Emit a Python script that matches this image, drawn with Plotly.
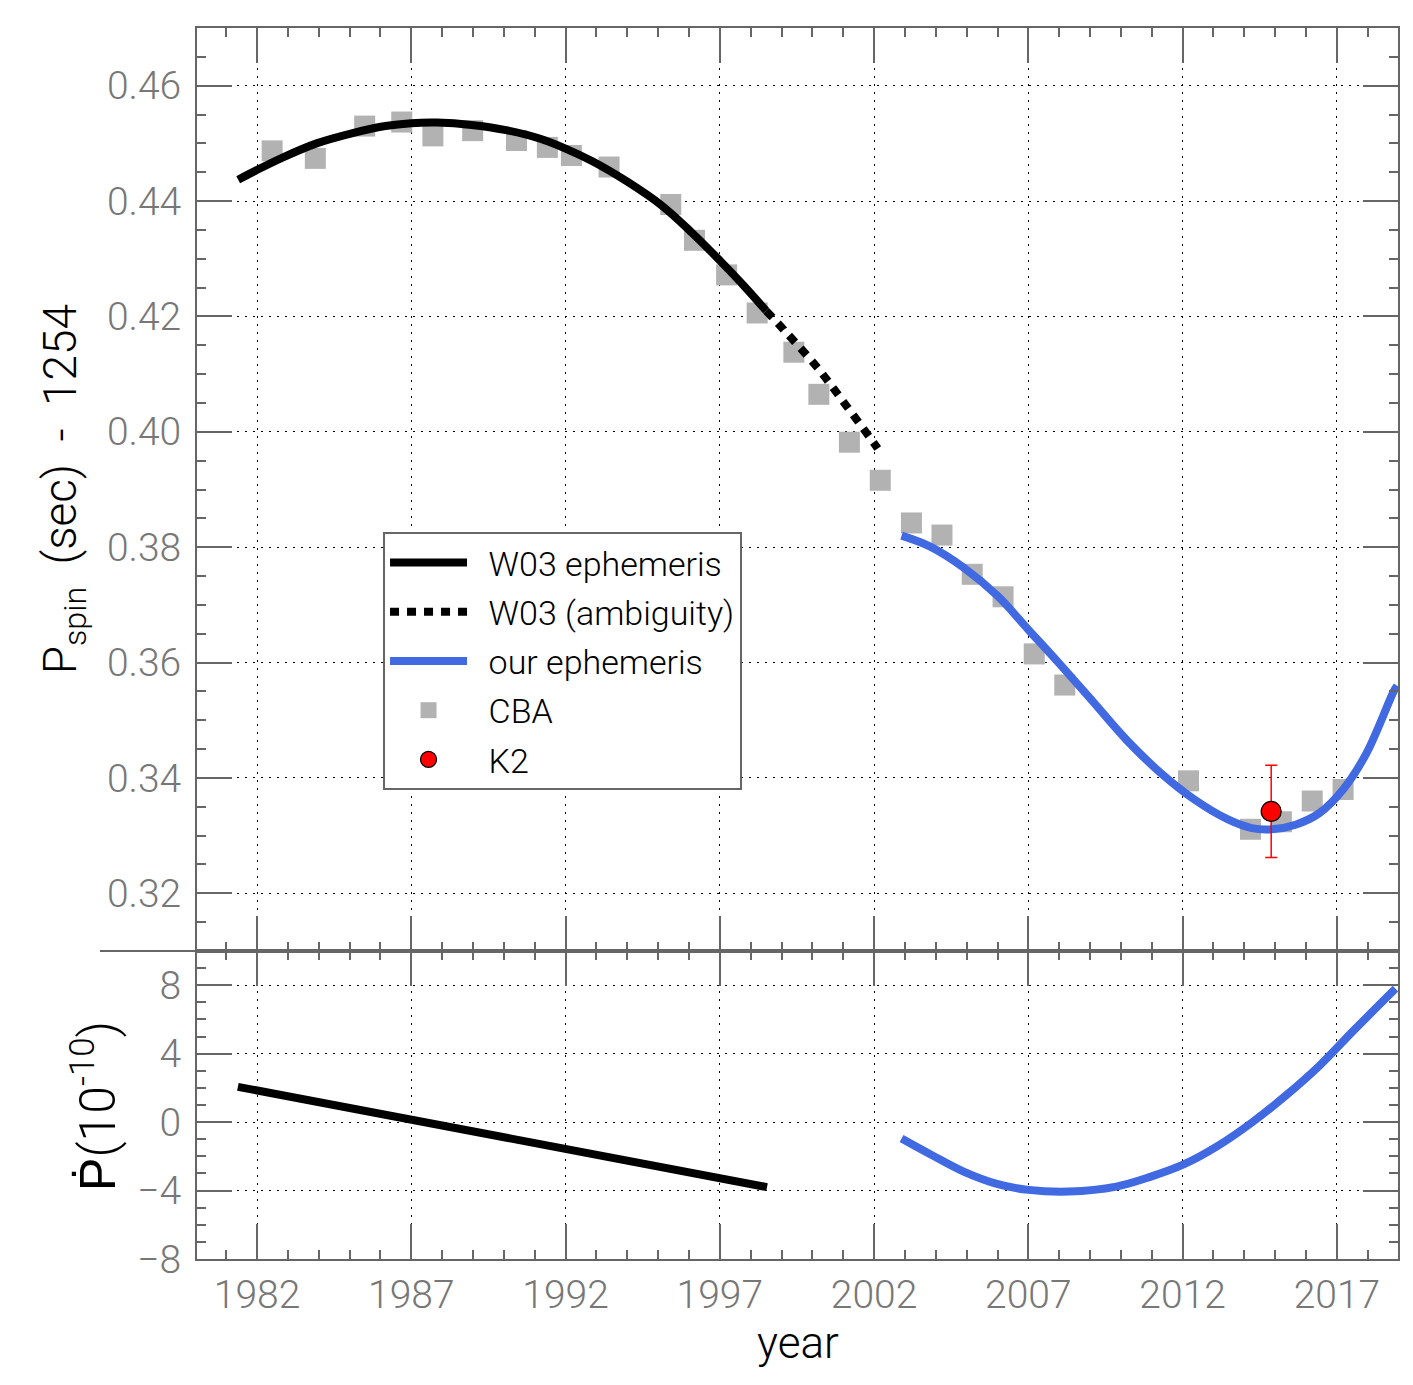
import plotly.graph_objects as go
from plotly.subplots import make_subplots

# ---------------- data ----------------
cba_year = [1982.49, 1983.89, 1985.49, 1986.69, 1987.70, 1988.99, 1990.41, 1991.41,
            1992.19, 1993.41, 1995.41, 1996.18, 1997.22, 1998.21, 1999.40, 2000.21,
            2001.20, 2002.20, 2003.21, 2004.20, 2005.18, 2006.18, 2007.19, 2008.18,
            2012.19, 2014.20, 2015.20, 2016.20, 2017.20]
cba_p = [0.4487, 0.4474, 0.4530, 0.4537, 0.4513, 0.4522, 0.4505, 0.4493,
         0.4479, 0.4459, 0.4394, 0.4332, 0.4272, 0.4206, 0.4138, 0.4065,
         0.3982, 0.3916, 0.3842, 0.3821, 0.3753, 0.3714, 0.3615, 0.3561,
         0.3395, 0.3311, 0.3324, 0.3360, 0.3380]

w03_year = [1981.39, 1982.00, 1982.81, 1983.93, 1985.04, 1986.16, 1987.00, 1987.84,
            1988.95, 1990.07, 1991.18, 1992.00, 1992.87, 1993.99, 1995.10, 1996.10,
            1997.00, 1997.80, 1998.50]
w03_p = [0.4437, 0.4454, 0.4475, 0.4500, 0.4517, 0.4530, 0.4535, 0.4536,
         0.4532, 0.4523, 0.4508, 0.4491, 0.4469, 0.4434, 0.4393, 0.4345,
         0.4297, 0.4252, 0.4210]

amb_year = [1998.50, 1999.07, 2000.12, 2001.09, 2002.04, 2002.12]
amb_p = [0.4210, 0.4177, 0.4114, 0.4046, 0.3977, 0.3971]

our_year = [2002.89, 2003.82, 2004.92, 2006.01, 2007.00, 2007.99, 2009.08, 2010.18,
            2011.28, 2012.37, 2013.47, 2014.24, 2014.89, 2015.66, 2016.43, 2017.20,
            2017.96, 2018.84, 2018.95]
our_p = [0.3820, 0.3801, 0.3764, 0.3715, 0.3657, 0.3599, 0.3533, 0.3466,
         0.3409, 0.3363, 0.3328, 0.3313, 0.3311, 0.3319, 0.3339, 0.3380,
         0.3443, 0.3550, 0.3560]

k2_year = [2014.87]
k2_p = [0.3342]
k2_err = [0.0080]

w03_pdot_year = [1981.38, 1998.53]
w03_pdot = [2.06, -3.80]

our_pdot_year = [2002.89, 2003.82, 2004.92, 2006.01, 2007.00, 2008.32, 2009.85, 2010.95,
                 2012.05, 2013.14, 2014.24, 2015.33, 2016.43, 2017.53, 2018.90]
our_pdot = [-0.96, -1.88, -2.91, -3.63, -3.96, -4.06, -3.77, -3.20,
            -2.46, -1.39, -0.03, 1.53, 3.29, 5.33, 7.80]

year_ticks = [1982, 1987, 1992, 1997, 2002, 2007, 2012, 2017]
p_ticks = [0.32, 0.34, 0.36, 0.38, 0.40, 0.42, 0.44, 0.46]
pdot_ticks = [-8, -4, 0, 4, 8]

# ---------------- figure ----------------
FONT = "Roboto, Liberation Sans, sans-serif"
AX = "#666666"
TICKFONT = dict(family=FONT, size=39, color="#777777", weight=300)
SP = "&nbsp;&nbsp;"

fig = make_subplots(rows=2, cols=1, shared_xaxes=True, vertical_spacing=0,
                    row_heights=[0.7498, 0.2502])

fig.add_trace(go.Scatter(x=cba_year, y=cba_p, mode="markers", name=SP + "CBA",
                         legendgroup="d", legendrank=4,
                         marker=dict(symbol="square", size=21, color="#b2b2b2")),
              row=1, col=1)
fig.add_trace(go.Scatter(x=w03_year, y=w03_p, mode="lines", name=SP + "W03 ephemeris",
                         legendgroup="a", legendrank=1,
                         line=dict(color="black", width=8, shape="spline")),
              row=1, col=1)
fig.add_trace(go.Scatter(x=amb_year, y=amb_p, mode="lines", name=SP + "W03 (ambiguity)",
                         legendgroup="b", legendrank=2,
                         line=dict(color="black", width=8, dash="9px,8px", shape="spline")),
              row=1, col=1)
fig.add_trace(go.Scatter(x=our_year, y=our_p, mode="lines", name=SP + "our ephemeris",
                         legendgroup="c", legendrank=3,
                         line=dict(color="#4169e1", width=8, shape="spline")),
              row=1, col=1)
fig.add_trace(go.Scatter(x=k2_year, y=k2_p, mode="markers", name=SP + "K2",
                         legendgroup="e", legendrank=5,
                         marker=dict(symbol="circle", size=20, color="red",
                                     line=dict(color="black", width=1.2)),
                         error_y=dict(type="data", array=k2_err, color="red",
                                      thickness=1.5, width=6)),
              row=1, col=1)

fig.add_trace(go.Scatter(x=w03_pdot_year, y=w03_pdot, mode="lines", showlegend=False,
                         line=dict(color="black", width=8)), row=2, col=1)
fig.add_trace(go.Scatter(x=our_pdot_year, y=our_pdot, mode="lines", showlegend=False,
                         line=dict(color="#4169e1", width=8, shape="spline")), row=2, col=1)

common = dict(showline=True, linecolor=AX, linewidth=2, mirror="ticks",
              ticks="inside", ticklen=35, tickwidth=1.5, tickcolor=AX,
              showgrid=True, gridcolor="black", gridwidth=1, griddash="2px,6px",
              zeroline=False, tickfont=TICKFONT)

xrange = [1980.055, 2018.98]
fig.update_xaxes(range=xrange, tickvals=year_ticks, **common,
                 minor=dict(ticks="inside", ticklen=9, tickwidth=1.5, tickcolor=AX,
                            dtick=1, tick0=1982, showgrid=False))
fig.update_xaxes(showticklabels=False, row=1, col=1)
fig.update_xaxes(showticklabels=True, ticklabelstandoff=0, row=2, col=1)

fig.update_yaxes(range=[0.31, 0.47], tickvals=p_ticks, tickformat=".2f",
                 ticklabelstandoff=6, **common,
                 minor=dict(ticks="inside", ticklen=9, tickwidth=1.5, tickcolor=AX,
                            dtick=0.005, tick0=0.32, showgrid=False),
                 row=1, col=1)
fig.update_yaxes(range=[-8, 10], tickvals=pdot_ticks, ticklabelstandoff=6, **common,
                 minor=dict(ticks="inside", ticklen=9, tickwidth=1.5, tickcolor=AX,
                            dtick=1, tick0=0, showgrid=False),
                 row=2, col=1)

fig.update_layout(
    width=1413, height=1385,
    margin=dict(l=197, r=15, t=28, b=126),
    paper_bgcolor="white", plot_bgcolor="white",
    font=dict(family=FONT, color="black"),
    showlegend=True,
    legend=dict(x=0.1549, y=0.5906, xanchor="left", yanchor="top",
                bgcolor="white", bordercolor=AX, borderwidth=2,
                font=dict(family=FONT, size=34, color="black", weight=300),
                itemwidth=77, traceorder="grouped", tracegroupgap=2,
                itemsizing="trace"),
    annotations=[
        dict(text="P<sub>spin</sub>&nbsp;&nbsp;(sec)&nbsp;&nbsp;-&nbsp;&nbsp;1254",
             xref="paper", yref="paper",
             x=-0.111, y=0.625, xanchor="center", yanchor="middle",
             textangle=-90, showarrow=False,
             font=dict(family=FONT, size=46, color="black", weight=300)),
        dict(text="Ṗ(10<sup>-10</sup>)", xref="paper", yref="paper",
             x=-0.085, y=0.1243, xanchor="center", yanchor="middle",
             textangle=-90, showarrow=False,
             font=dict(family=FONT, size=50, color="black", weight=300)),
        dict(text="year", xref="paper", yref="paper", x=0.5, y=-0.0682,
             xanchor="center", yanchor="middle", showarrow=False,
             font=dict(family=FONT, size=44, color="black", weight=300)),
    ],
    shapes=[dict(type="line", xref="paper", yref="paper", x0=-0.0808, x1=0,
                 y0=0.2502, y1=0.2502, line=dict(color=AX, width=2))],
)

fig.write_html("out.html")
